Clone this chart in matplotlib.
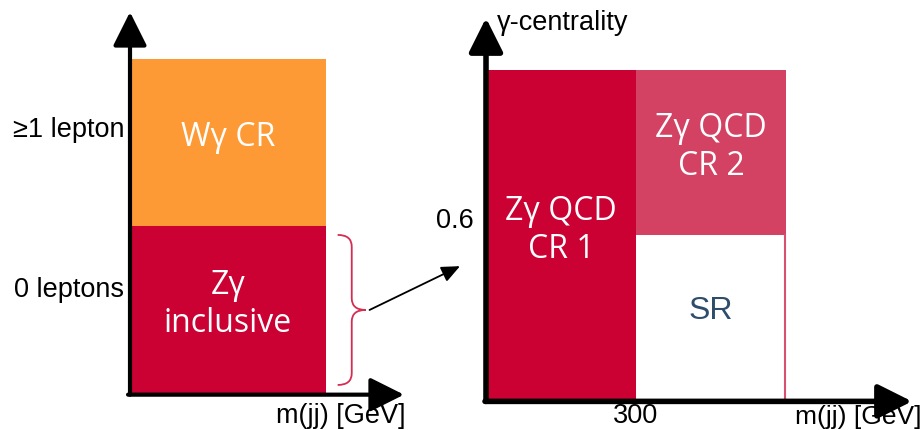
import matplotlib.pyplot as plt
from matplotlib.path import Path
from matplotlib.patches import PathPatch, Rectangle

# left panel: lepton-multiplicity split (x in arbitrary m(jj) units)
left_bands = ["0 leptons", "\u22651 lepton"]
left_band_y = [0.617, 1.575]
left_labels = ["Z\u03b3\ninclusive", "W\u03b3 CR"]
left_colors = ["#CB0033", "#FE9A35"]
left_width = 1.0

# right panel: m(jj) vs gamma-centrality
mjj_cut = 300
mjj_max = 600
cent_cut = 0.6
cent_max = 1.2
right_regions = [  # (x0, x1, y0, y1, label, facecolor, textcolor, y offset)
    (0, mjj_cut, 0, cent_max, "Z\u03b3 QCD\nCR 1", "#CB0033", "white", 0.015),
    (mjj_cut, mjj_max, cent_cut, cent_max, "Z\u03b3 QCD\nCR 2", "#D34163", "white", 0.02),
    (mjj_cut, mjj_max, 0, cent_cut, "SR", "white", "#2E4D6B", 0.025),
]

sans = ["Liberation Sans", "DejaVu Sans"]
box = ["Open Sans", "DejaVu Sans"]

fig = plt.figure(figsize=(9.22, 4.30), dpi=100)

ax1 = fig.add_axes([130 / 922, 37 / 430, 274 / 922, 381 / 430])
ax1.set_xlim(0, 1.4)
ax1.set_ylim(0, 2.28)
ax1.axis("off")

for i, (lab, col) in enumerate(zip(left_labels, left_colors)):
    ax1.add_patch(Rectangle((0, i), left_width, 1, facecolor=col, edgecolor="none"))
    ax1.text(left_width / 2, i + 0.53, lab, ha="center", va="center", color="white",
             fontsize=23, family=box, linespacing=1.2)
    ax1.text(-0.03, left_band_y[i], left_bands[i], ha="right", va="center",
             fontsize=19.5, family=sans)

arr = dict(arrowstyle="-|>,head_length=1.3,head_width=0.65", lw=3, color="black",
           mutation_scale=16, shrinkA=0, shrinkB=0)
ax1.annotate("", xy=(0, 2.28), xytext=(0, -0.01), arrowprops=arr, annotation_clip=False)
ax1.annotate("", xy=(1.4, -0.01), xytext=(-0.01, -0.01), arrowprops=arr, annotation_clip=False)
ax1.text(1.41, -0.06, "m(jj) [GeV]", ha="right", va="top", fontsize=19.5, family=sans)

# curly brace next to the Z-gamma inclusive band
bx0, bx1, bx2 = 1.061, 1.133, 1.204
by0, bym, by1 = 0.048, 0.497, 0.946
verts = [(bx0, by1), (bx1, by1), (bx1, by1 - 0.07), (bx1, by1 - 0.07),
         (bx1, bym + 0.07), (bx1, bym + 0.07),
         (bx1, bym), (bx2, bym), (bx1, bym), (bx1, bym - 0.07),
         (bx1, by0 + 0.07), (bx1, by0 + 0.07),
         (bx1, by0), (bx0, by0)]
codes = [Path.MOVETO, Path.CURVE3, Path.CURVE3, Path.LINETO,
         Path.LINETO, Path.LINETO,
         Path.CURVE3, Path.CURVE3, Path.CURVE3, Path.CURVE3,
         Path.LINETO, Path.LINETO,
         Path.CURVE3, Path.CURVE3]
ax1.add_patch(PathPatch(Path(verts, codes), facecolor="none", edgecolor="#D52D52",
                        lw=1.3, clip_on=False))

ax2 = fig.add_axes([486 / 922, 30 / 430, 425 / 922, 382 / 430])
ax2.set_xlim(0, 850)
ax2.set_ylim(0, 1.39)
ax2.axis("off")

for x0, x1, y0, y1, lab, fc, tc, dy in right_regions:
    ax2.add_patch(Rectangle((x0, y0), x1 - x0, y1 - y0, facecolor=fc, edgecolor="none"))
    ax2.text((x0 + x1) / 2, (y0 + y1) / 2 + dy, lab, ha="center",
             va="center", color=tc, fontsize=23, family=box if lab != "SR" else sans,
             linespacing=1.2)
ax2.plot([mjj_max - 2, mjj_max - 2], [0, cent_cut], color="#D8506F", lw=1.5)

arr2 = dict(arr, lw=4)
ax2.annotate("", xy=(0, 1.39), xytext=(0, -0.005), arrowprops=arr2, annotation_clip=False)
ax2.annotate("", xy=(852, -0.005), xytext=(-2, -0.005), arrowprops=arr2, annotation_clip=False)
ax2.text(-24, cent_cut + 0.05, "0.6", ha="right", va="center", fontsize=19.5, family=sans)
ax2.text(mjj_cut, -0.082, "300", ha="center", va="baseline", fontsize=19.5, family=sans)
ax2.text(22, 1.37, "\u03b3-centrality", ha="left", va="center", fontsize=19.5, family=sans)
ax2.text(870, -0.087, "m(jj) [GeV]", ha="right", va="baseline", fontsize=19, family=sans)

# arrow from the brace to the right panel
ax2.annotate("", xy=(-52, 0.487), xycoords="data", xytext=(1.224, 0.497),
             textcoords=ax1.transData, annotation_clip=False,
             arrowprops=dict(arrowstyle="-|>,head_length=0.8,head_width=0.35", lw=1.3,
                             color="black", mutation_scale=14, shrinkA=0, shrinkB=0))

fig.savefig("out.png", dpi=100)
